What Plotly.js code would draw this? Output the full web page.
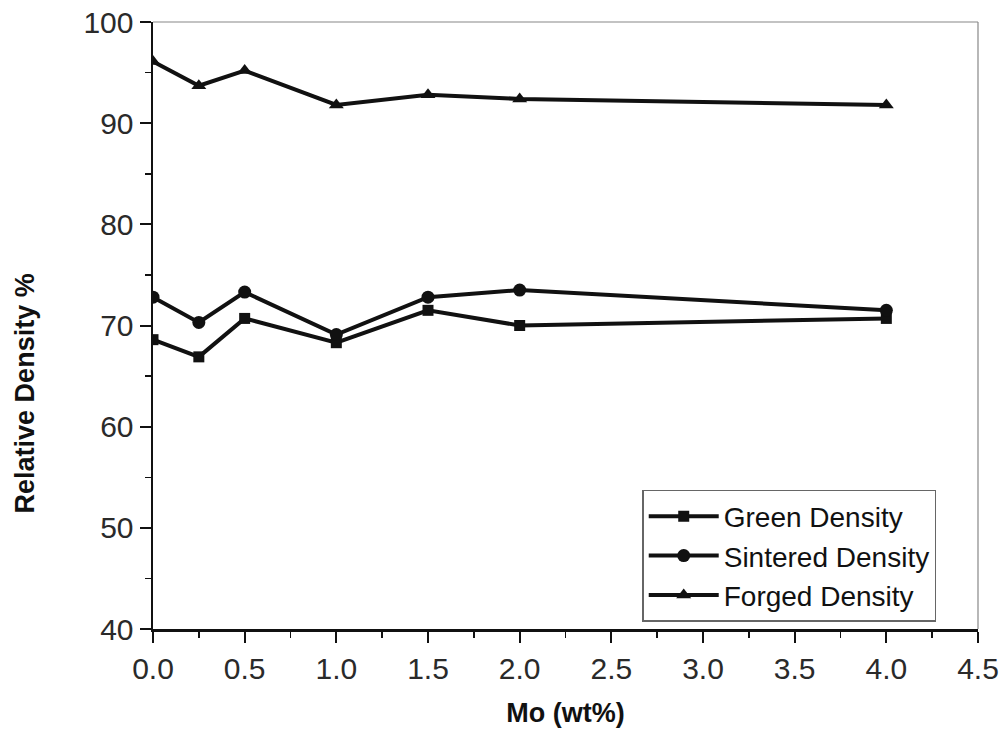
<!DOCTYPE html>
<html>
<head>
<meta charset="utf-8">
<script src="https://cdn.plot.ly/plotly-3.0.1.min.js"></script>
<style>html,body{margin:0;padding:0;background:#fff;}#chart{width:1006px;height:743px;}</style>
</head>
<body>
<div id="chart"></div>
<script>
const moContent = [0.0, 0.25, 0.5, 1.0, 1.5, 2.0, 4.0];
const greenDensity = [68.6, 66.9, 70.7, 68.3, 71.5, 70.0, 70.7];
const sinteredDensity = [72.8, 70.3, 73.3, 69.1, 72.8, 73.5, 71.5];
const forgedDensity = [96.1, 93.7, 95.2, 91.8, 92.8, 92.4, 91.8];
const seriesNames = ["Green Density", "Sintered Density", "Forged Density"];
const yTitle = 'Relative Density %';
const xTitle = 'Mo (wt%)';

const lineStyle = {color: '#111', width: 4};
const traces = [
  {x: moContent, y: greenDensity, name: seriesNames[0], mode: 'lines+markers',
   line: lineStyle, marker: {symbol: 'square', size: 11, color: '#111'}},
  {x: moContent, y: sinteredDensity, name: seriesNames[1], mode: 'lines+markers',
   line: lineStyle, marker: {symbol: 'circle', size: 13, color: '#111'}},
  {x: moContent, y: forgedDensity, name: seriesNames[2], mode: 'lines+markers',
   line: lineStyle, marker: {symbol: 'triangle-up', size: 13, color: '#111'}}
];

const fam = 'Liberation Sans, Arial, sans-serif';
const tickFont = {family: fam, size: 30, color: '#2a2a2a'};
const titleFont = {family: fam, size: 27, color: '#111', weight: 'bold'};

const layout = {
  width: 1006, height: 743,
  margin: {l: 153, r: 28, t: 22, b: 114},
  paper_bgcolor: '#fff', plot_bgcolor: '#fff',
  showlegend: true,
  legend: {
    x: 0.593, y: 0.229, xanchor: 'left', yanchor: 'top',
    bgcolor: '#fff', bordercolor: '#666', borderwidth: 1.5,
    font: {family: fam, size: 28, color: '#111'},
    tracegroupgap: 0, itemwidth: 70
  },
  xaxis: {
    range: [0, 4.5], dtick: 0.5, tick0: 0, tickformat: '.1f',
    showgrid: false, zeroline: false,
    showline: true, linecolor: '#111', linewidth: 2.5,
    ticks: 'outside', ticklen: 11, tickwidth: 2, tickcolor: '#111',
    minor: {dtick: 0.25, ticklen: 6, tickwidth: 1.5, tickcolor: '#111', ticks: 'outside', showgrid: false},
    tickfont: tickFont,
    title: {text: xTitle, font: titleFont, standoff: 20}
  },
  yaxis: {
    range: [40, 100], dtick: 10, tick0: 40,
    showgrid: false, zeroline: false,
    showline: true, linecolor: '#111', linewidth: 2.5,
    ticks: 'outside', ticklen: 11, tickwidth: 2, tickcolor: '#111',
    minor: {dtick: 5, ticklen: 6, tickwidth: 1.5, tickcolor: '#111', ticks: 'outside', showgrid: false},
    tickfont: tickFont
  },
  annotations: [
    {text: yTitle, xref: 'paper', yref: 'paper', x: -0.154, y: 0.388,
     xanchor: 'center', yanchor: 'middle', textangle: -90, showarrow: false, font: titleFont}
  ],
  shapes: [
    {type: 'line', xref: 'paper', yref: 'paper', x0: 0, x1: 1, y0: 1, y1: 1, line: {color: '#888', width: 1.2}},
    {type: 'line', xref: 'paper', yref: 'paper', x0: 1, x1: 1, y0: 0, y1: 1, line: {color: '#888', width: 1.2}}
  ]
};

Plotly.newPlot('chart', traces, layout, {displayModeBar: false, staticPlot: true});
</script>
</body>
</html>
